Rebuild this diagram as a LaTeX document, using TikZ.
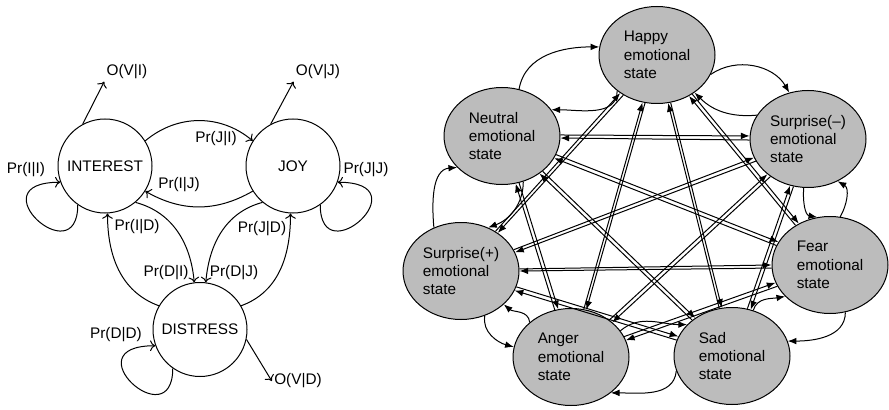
\documentclass[tikz,border=0pt]{standalone}
\usepackage{fontspec}
\setmainfont{Liberation Sans}
\usetikzlibrary{shapes.geometric,arrows.meta}
\definecolor{emofill}{RGB}{188,188,188}

\begin{document}
\begin{tikzpicture}[x=0.75pt,y=0.75pt,line width=0.75pt,
        font=\fontsize{11.5}{13.8}\selectfont,
        state/.style={circle,draw,minimum size=70.5pt,inner sep=0pt},
        lbl/.style={inner sep=1.5pt},
        emo/.style={ellipse,draw,fill=emofill,minimum width=87pt,minimum height=72.75pt,
            inner sep=0pt,align=left,font=\fontsize{11.5}{13.75}\selectfont},
        ltr/.style={-{To[length=4pt,width=8pt]}},
        rtr/.style={-{Latex[length=6.5pt,width=5pt]}}]
        \useasboundingbox (0,0) rectangle (889,-410);

        % left: three states
        \node[state] (interest) at (105,-166) {INTEREST};
        \node[state] (joy) at (293,-166) {JOY};
        \node[state] (distress) at (200,-329.5) {DISTRESS};

        \node[lbl] (ovi) at (127,-72) {O(V|I)};
        \node[lbl] (ovj) at (318,-72) {O(V|J)};
        \node[lbl] (ovd) at (298,-381) {O(V|D)};
        \draw[ltr] (interest.118) -- (ovi.south west);
        \draw[ltr] (joy.118) -- (ovj.south west);
        \draw[ltr] (distress.-12) -- (ovd.west);

        \draw[ltr] (interest.235) .. controls +(-90:70) and +(180:85) .. (interest.200);
        \draw[ltr] (joy.-55) .. controls +(-90:70) and +(0:85) .. (joy.-20);
        \draw[ltr] (distress.235) .. controls +(-90:70) and +(180:85) .. (distress.200);
        \node[lbl] (lii) at (26,-170) {Pr(I|I)};
        \node[lbl] (ljj) at (366,-170) {Pr(J|J)};
        \node[lbl] (ldd) at (116,-335) {Pr(D|D)};

        \draw[ltr] (interest.32) to[out=40,in=140] (joy.148);
        \draw[ltr] (joy.-148) to[out=-150,in=-30] (interest.-32);
        \draw[ltr] (interest.-50) to[out=-15,in=95] (distress.97);
        \draw[ltr] (joy.-130) to[out=195,in=85] (distress.83);
        \draw[ltr] (distress.150) to[out=160,in=-90] (interest.-87);
        \draw[ltr] (distress.30) to[out=20,in=-90] (joy.-93);
        \node[lbl] (lji) at (216,-139) {Pr(J|I)};
        \node[lbl] (lij) at (179,-185) {Pr(I|J)};
        \node[lbl] (lid) at (137,-227) {Pr(I|D)};
        \node[lbl] (ljd) at (262,-229) {Pr(J|D)};
        \node[lbl] (ldi) at (166,-273) {Pr(D|I)};
        \node[lbl] (ldj) at (234,-273) {Pr(D|J)};

        % right: seven emotional states
        \node[emo] (happy) at (657,-55) {Happy\\emotional\\state};
        \node[emo] (neutral) at (502,-136) {Neutral\\emotional\\state};
        \node[emo] (surpm) at (808,-139) {Surprise(–)\\emotional\\state};
        \node[emo] (surpp) at (461,-271) {Surprise(+)\\emotional\\state};
        \node[emo] (fear) at (830,-265) {Fear\\emotional\\state};
        \node[emo] (anger) at (571,-357) {Anger\\emotional\\state};
        \node[emo] (sad) at (732,-356) {Sad\\emotional\\state};

        % neighbours on the ring
        \draw[rtr] (neutral.70) to[out=80,in=180] (happy.172);
        \draw[rtr] (happy.222) to[out=-90,in=0] (neutral.28);
        \draw[rtr] (happy.-20) to[out=35,in=120] (surpm.112);
        \draw[rtr] (surpm.155) to[out=185,in=-45] (happy.-45);
        \draw[rtr] (surpm.-95) to[out=-95,in=170] (fear.105);
        \draw[rtr] (fear.78) to[out=60,in=-30] (surpm.-55);
        \draw[rtr] (fear.-72) to[out=-90,in=0] (sad.15);
        \draw[rtr] (sad.65) to[out=75,in=190] (fear.-145);
        \draw[rtr] (sad.195) to[out=-95,in=0] (anger.-42);
        \draw[rtr] (anger.28) to[out=40,in=180] (sad.145);
        \draw[rtr] (anger.140) to[out=95,in=-40] (surpp.-38);
        \draw[rtr] (surpp.-62) to[out=-100,in=165] (anger.170);
        \draw[rtr] (surpp.122) to[out=95,in=185] (neutral.215);
        \draw[rtr] (neutral.-65) to[out=-90,in=20] (surpp.58);

        % the other pairs, one line each way
        \foreach \a/\b/\t in {neutral/surpm/-0.6, neutral/fear/-21.5, neutral/sad/-43.7,
                neutral/anger/-72.7, happy/fear/-50.5, happy/sad/-76, happy/anger/-105.9,
                happy/surpp/-132.2, surpm/sad/-109.3, surpm/anger/-137.4, surpm/surpp/-159.2,
                fear/anger/-160.4, fear/surpp/-179.1, sad/surpp/162.6} {
            \pgfmathsetmacro{\ua}{\t+1.8}
            \pgfmathsetmacro{\ub}{\t+178.2}
            \pgfmathsetmacro{\va}{\t+181.8}
            \pgfmathsetmacro{\vb}{\t-1.8}
            \draw[rtr] (\a.\ua) -- (\b.\ub);
            \draw[rtr] (\b.\va) -- (\a.\vb);
        }
    \end{tikzpicture}
\end{document}
